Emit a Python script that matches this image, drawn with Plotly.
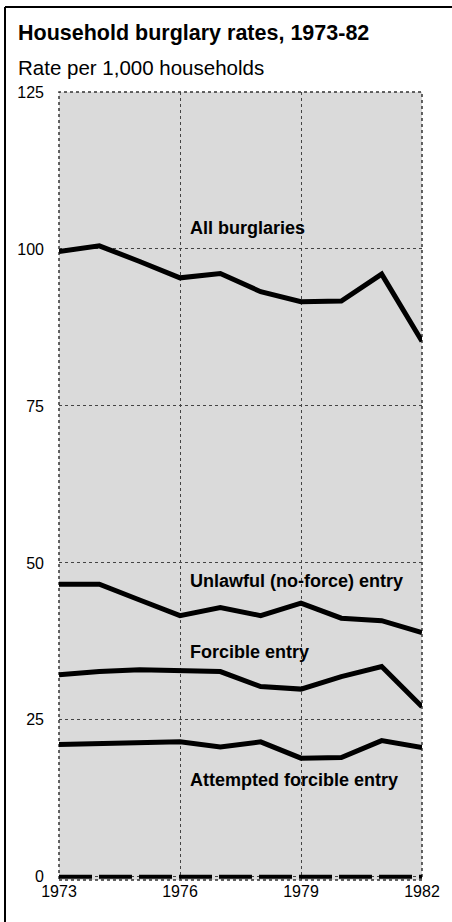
import plotly.graph_objects as go

years = [1973, 1974, 1975, 1976, 1977, 1978, 1979, 1980, 1981, 1982]
all_burglaries = [99.6, 100.5, 98.0, 95.4, 96.1, 93.2, 91.6, 91.7, 96.0, 85.3]
unlawful_entry = [46.6, 46.6, 44.1, 41.6, 42.9, 41.6, 43.6, 41.2, 40.8, 38.9]
forcible_entry = [32.2, 32.7, 33.0, 32.9, 32.7, 30.3, 29.9, 31.9, 33.5, 27.1]
attempted_entry = [21.1, 21.2, 21.4, 21.5, 20.7, 21.5, 18.9, 19.0, 21.7, 20.6]
baseline = [0] * len(years)

series_labels = ["All burglaries", "Unlawful (no-force) entry", "Forcible entry", "Attempted forcible entry"]
label_y = [103.3, 47.1, 35.8, 15.4]
label_x = 1976.2

x_ticks = [1973, 1976, 1979, 1982]
y_ticks = [0, 25, 50, 75, 100, 125]

title_text = "Household burglary rates, 1973-82"
subtitle_text = "Rate per 1,000 households"

FONT = "Liberation Sans, Arial, Helvetica, sans-serif"

fig = go.Figure()

for vals in [all_burglaries, unlawful_entry, forcible_entry, attempted_entry]:
    fig.add_trace(go.Scatter(x=years, y=vals, mode="lines",
                             line=dict(color="black", width=5),
                             hoverinfo="skip", showlegend=False))

fig.add_trace(go.Scatter(x=years, y=baseline, mode="lines",
                         line=dict(color="black", width=4, dash="33px,7px"),
                         hoverinfo="skip", showlegend=False))

for txt, yv in zip(series_labels, label_y):
    fig.add_annotation(x=label_x, y=yv, xref="x", yref="y", text="<b>" + txt + "</b>",
                       showarrow=False, xanchor="left", yanchor="middle",
                       font=dict(family=FONT, size=18, color="black"))

# plot area: x 59..422, y 92..880 (range -0.5..125)
L, R, T, B = 59, 422, 92, 880
W, H = R - L, B - T

def px(xp):
    return (xp - L) / W

def py(yp):
    return (B - yp) / H

fig.add_annotation(x=px(16), y=py(33), xref="paper", yref="paper", text="<b>" + title_text + "</b>",
                   showarrow=False, xanchor="left", yanchor="middle",
                   font=dict(family=FONT, size=21.5, color="black"))
fig.add_annotation(x=px(16), y=py(67), xref="paper", yref="paper", text=subtitle_text,
                   showarrow=False, xanchor="left", yanchor="middle",
                   font=dict(family=FONT, size=20.5, color="black"))

# plot border (dotted)
fig.add_shape(type="rect", xref="x domain", yref="y domain", x0=0, x1=1, y0=0, y1=1,
              line=dict(color="#333333", width=1.5, dash="dot"), layer="below")

# outer frame (left and top edges)
fig.add_shape(type="line", xref="paper", yref="paper", x0=px(5), x1=px(5), y0=py(7), y1=py(922),
              line=dict(color="black", width=2))
fig.add_shape(type="line", xref="paper", yref="paper", x0=px(5), x1=px(452), y0=py(7), y1=py(7),
              line=dict(color="black", width=2))

fig.update_layout(
    width=452, height=922,
    margin=dict(l=L, r=452 - R, t=T, b=922 - B),
    paper_bgcolor="white",
    plot_bgcolor="#dadada",
    font=dict(family=FONT, size=16, color="black"),
    showlegend=False,
)
fig.update_xaxes(range=[1973, 1982], tickvals=x_ticks, ticktext=[str(v) for v in x_ticks],
                 showgrid=True, gridcolor="#444444", gridwidth=1, griddash="dot",
                 zeroline=False, showline=False, ticks="", ticklabelstandoff=0,
                 tickfont=dict(family=FONT, size=16, color="black"))
fig.update_yaxes(range=[-0.5, 125], tickvals=y_ticks, ticktext=[str(v) for v in y_ticks],
                 showgrid=True, gridcolor="#444444", gridwidth=1, griddash="dot",
                 zeroline=False, showline=False, ticks="", ticklabelstandoff=14,
                 tickfont=dict(family=FONT, size=16, color="black"))

fig.write_html("out.html", config={"displayModeBar": False},
               post_script="document.body.style.margin='0';document.body.style.overflow='hidden';")
